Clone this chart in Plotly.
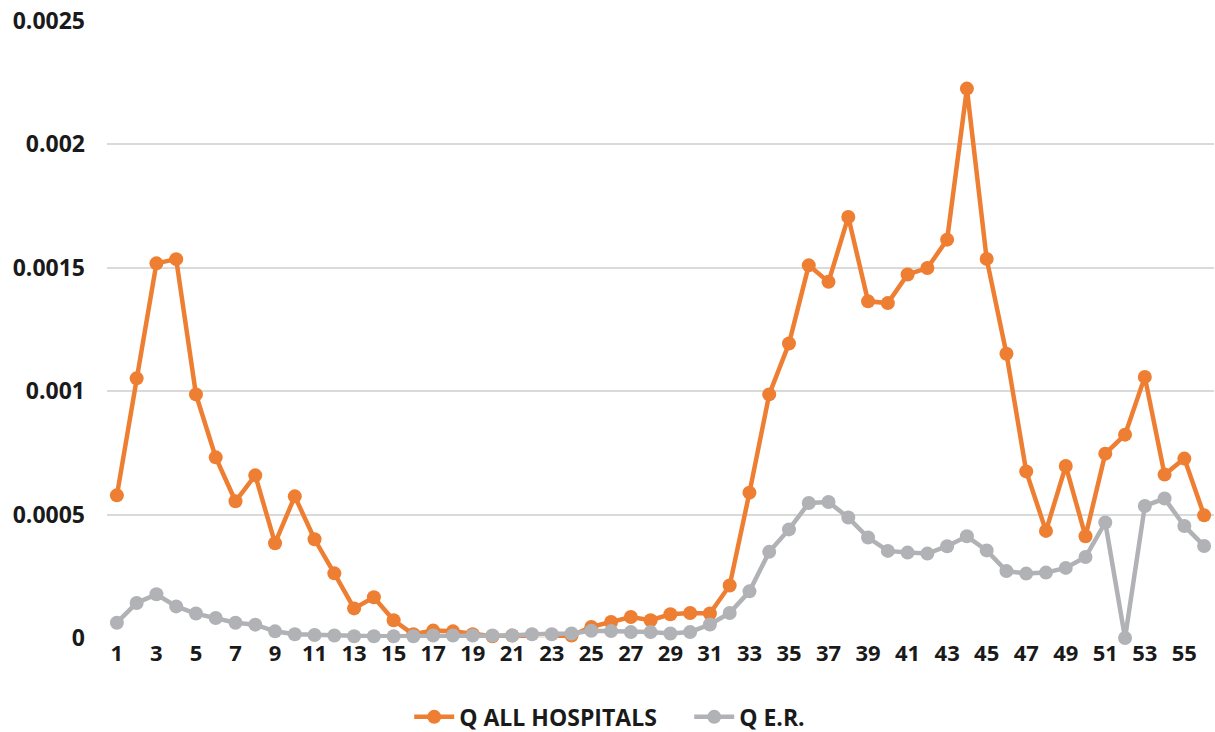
import plotly.graph_objects as go

weeks = list(range(1, 57))

q_all_hospitals = [
    0.000578, 0.001052, 0.001518, 0.001535, 0.000987, 0.000732, 0.000554, 0.000659,
    0.000384, 0.000574, 0.000400, 0.000262, 0.000120, 0.000165, 0.000072, 0.000015,
    0.000030, 0.000027, 0.000015, 0.000007, 0.000010, -0.000008, -0.000008, 0.000010,
    0.000045, 0.000065, 0.000085, 0.000072, 0.000096, 0.000101, 0.000099, 0.000213,
    0.000589, 0.000987, 0.001193, 0.001510, 0.001443, 0.001706, 0.001364, 0.001357,
    0.001473, 0.001499, 0.001614, 0.002226, 0.001536, 0.001152, 0.000675, 0.000434,
    0.000697, 0.000412, 0.000747, 0.000824, 0.001058, 0.000662, 0.000727, 0.000497,
]

q_er = [
    0.000062, 0.000142, 0.000177, 0.000128, 0.000099, 0.000081, 0.000062, 0.000054,
    0.000027, 0.000015, 0.000012, 0.000010, 0.000007, 0.000007, 0.000007, 0.000007,
    0.000010, 0.000010, 0.000010, 0.000010, 0.000010, 0.000015, 0.000015, 0.000018,
    0.000029, 0.000028, 0.000024, 0.000024, 0.000018, 0.000024, 0.000055, 0.000101,
    0.000189, 0.000349, 0.000440, 0.000547, 0.000551, 0.000488, 0.000407, 0.000353,
    0.000346, 0.000342, 0.000372, 0.000412, 0.000355, 0.000271, 0.000261, 0.000265,
    0.000284, 0.000328, 0.000468, 0.000000, 0.000535, 0.000565, 0.000454, 0.000373,
]

x_tick_vals = list(range(1, 56, 2))
x_tick_text = [str(v) for v in x_tick_vals]
y_tick_vals = [0, 0.0005, 0.001, 0.0015, 0.002, 0.0025]
y_tick_text = ["0", "0.0005", "0.001", "0.0015", "0.002", "0.0025"]

ORANGE = "#EE7E32"
GREY = "#B1B2B5"
FONT = "Open Sans"
TXT = "#1a1a1a"

fig = go.Figure()
fig.add_trace(go.Scatter(
    x=weeks, y=q_all_hospitals, name="Q ALL HOSPITALS", mode="lines+markers",
    line=dict(color=ORANGE, width=4.5), marker=dict(color=ORANGE, size=14),
    cliponaxis=False,
))
fig.add_trace(go.Scatter(
    x=weeks, y=q_er, name="Q E.R.", mode="lines+markers",
    line=dict(color=GREY, width=4.5), marker=dict(color=GREY, size=14),
    cliponaxis=False,
))

fig.update_layout(
    width=1215, height=732,
    margin=dict(l=107, r=1, t=21, b=94, autoexpand=False),
    paper_bgcolor="white", plot_bgcolor="white",
    font=dict(family=FONT, size=22, color=TXT),
    showlegend=True,
    legend=dict(orientation="h", x=0.273, xanchor="left", y=-0.093, yanchor="top",
                font=dict(family=FONT, size=23, color=TXT, weight="bold"),
                itemwidth=40, traceorder="normal",
                entrywidth=225, entrywidthmode="pixels"),
)
fig.update_xaxes(
    range=[0.5, 56.5], tickmode="array", tickvals=x_tick_vals, ticktext=x_tick_text,
    showgrid=False, zeroline=False, showline=False, ticks="",
    tickfont=dict(family=FONT, size=22, color=TXT, weight="bold"),
)
fig.update_yaxes(
    range=[0, 0.0025], tickmode="array", tickvals=y_tick_vals, ticktext=y_tick_text,
    showgrid=True, gridcolor="#DADADA", gridwidth=1.5, zeroline=False, showline=False,
    ticks="", ticklabelstandoff=21,
    tickfont=dict(family=FONT, size=23, color=TXT, weight="bold"),
)

fig.write_html("out.html", config={"displayModeBar": False},
               post_script="document.body.style.margin='0';document.body.style.padding='0';")
